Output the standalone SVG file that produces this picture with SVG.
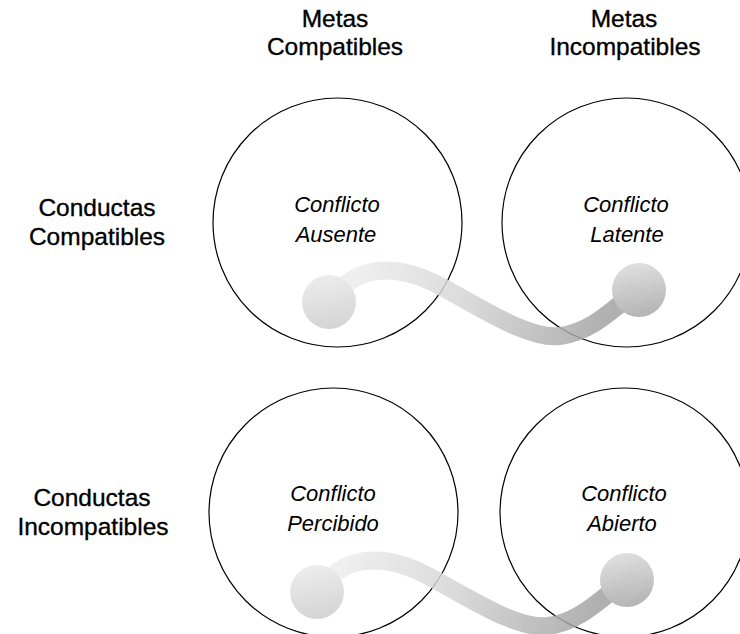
<svg xmlns="http://www.w3.org/2000/svg" width="740" height="634" viewBox="0 0 740 634">
  <style>
    .head { font-family: "Liberation Sans", Arial, sans-serif; font-size: 24.5px; fill: #000; stroke: #000; stroke-width: 0.35; text-anchor: middle; }
    .cell { font-family: "Liberation Sans", Arial, sans-serif; font-size: 22px; font-style: italic; fill: #000; text-anchor: middle; }
    .ring { fill: none; stroke: #000; stroke-width: 1.2; }
    .tube { fill: none; stroke: url(#tubeGrad); stroke-width: 18; stroke-linecap: round; }
  </style>
  <defs>
    <linearGradient id="tubeGrad" gradientUnits="userSpaceOnUse" x1="345" y1="262" x2="600" y2="345">
      <stop offset="0" stop-color="#efefef"/>
      <stop offset="0.45" stop-color="#d6d6d6"/>
      <stop offset="1" stop-color="#a2a2a2"/>
    </linearGradient>
    <linearGradient id="dotLight" x1="0.4" y1="0" x2="0.6" y2="1">
      <stop offset="0" stop-color="#eaeaea"/>
      <stop offset="1" stop-color="#cccccc"/>
    </linearGradient>
    <linearGradient id="dotDark" x1="0.4" y1="0" x2="0.6" y2="1">
      <stop offset="0" stop-color="#dadada"/>
      <stop offset="1" stop-color="#a6a6a6"/>
    </linearGradient>
    <!-- S-shaped link with a ball at each end -->
    <g id="link">
      <path class="tube" d="M 340 290 C 360 268, 395 262, 440 286 S 530 340, 560 336 S 610 312, 635 292"/>
      <circle cx="329" cy="302" r="27" fill="url(#dotLight)"/>
      <circle cx="639" cy="290" r="27" fill="url(#dotDark)"/>
    </g>
  </defs>

  <!-- column headings -->
  <g id="col-compatibles">
    <text class="head" x="335" y="27">Metas</text>
    <text class="head" x="335" y="55">Compatibles</text>
  </g>
  <g id="col-incompatibles">
    <text class="head" x="624" y="27">Metas</text>
    <text class="head" x="625" y="55">Incompatibles</text>
  </g>

  <!-- row headings -->
  <g id="row-compatibles">
    <text class="head" x="97" y="216">Conductas</text>
    <text class="head" x="97" y="245">Compatibles</text>
  </g>
  <g id="row-incompatibles">
    <text class="head" x="92" y="506">Conductas</text>
    <text class="head" x="93" y="535">Incompatibles</text>
  </g>

  <!-- quadrant circles -->
  <g id="ausente">
    <circle class="ring" cx="337.5" cy="222.5" r="124.5"/>
    <text class="cell" x="337" y="212">Conflicto</text>
    <text class="cell" x="336" y="242">Ausente</text>
  </g>
  <g id="latente">
    <circle class="ring" cx="626.5" cy="222.5" r="124.5"/>
    <text class="cell" x="626" y="212">Conflicto</text>
    <text class="cell" x="627" y="242">Latente</text>
  </g>
  <g id="percibido">
    <circle class="ring" cx="333.5" cy="512.5" r="124.5"/>
    <text class="cell" x="333" y="501">Conflicto</text>
    <text class="cell" x="333" y="531">Percibido</text>
  </g>
  <g id="abierto">
    <circle class="ring" cx="624.5" cy="512.5" r="124.5"/>
    <text class="cell" x="624" y="501">Conflicto</text>
    <text class="cell" x="622" y="531">Abierto</text>
  </g>

  <!-- connectors -->
  <g id="connectors" opacity="0.85">
    <use href="#link"/>
    <use href="#link" transform="translate(-12 290)"/>
  </g>
</svg>
